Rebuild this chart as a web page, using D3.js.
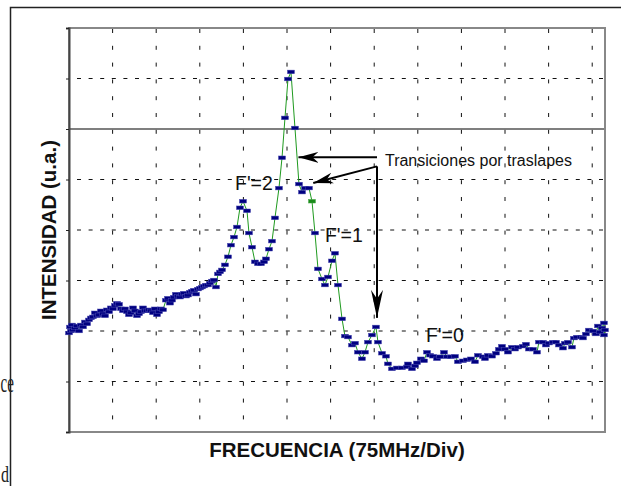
<!DOCTYPE html>
<html>
<head>
<meta charset="utf-8">
<script src="https://cdn.jsdelivr.net/npm/d3@7"></script>
<style>
  html, body { margin: 0; padding: 0; background: #fff; }
  svg { display: block; }
</style>
</head>
<body>
<svg id="chart" width="621" height="486"></svg>
<script>
// Frequency (MHz, 75 MHz per division) and intensity (a.u., 1 per division)
const freqMHz = [
  0, 1.7, 3.4, 5.2, 6.9, 10.3, 13.8, 17.2, 20.6, 24.1, 27.5, 31.0, 34.4, 37.8, 41.3, 44.7, 48.2, 51.6,
  55.0, 58.5, 61.9, 65.4, 68.8, 72.2, 75.7, 79.1, 82.6, 86.0, 89.4, 92.9, 96.3, 99.8, 103.2, 106.6,
  110.1, 113.5, 117.0, 120.4, 123.8, 127.3, 130.7, 134.2, 137.6, 141.0, 144.5, 147.9, 151.4, 154.8,
  158.2, 161.7, 166.8, 170.3, 173.7, 177.2, 180.6, 184.0, 187.5, 190.9, 194.4, 197.8, 201.2, 204.7,
  208.1, 211.6, 215.0, 218.4, 221.9, 225.3, 228.8, 232.2, 235.6, 239.1, 242.5, 246.0, 249.4, 252.8,
  256.3, 259.7, 263.2, 268.3, 273.5, 278.6, 283.8, 289.0, 294.1, 299.3, 306.2, 309.6, 314.8, 319.9,
  325.1, 330.2, 335.4, 338.8, 344.0, 349.2, 354.3, 361.2, 366.4, 371.5, 376.7, 381.8, 388.7, 395.6,
  400.8, 405.9, 412.8, 418.0, 423.1, 428.3, 435.2, 440.3, 445.5, 452.4, 457.5, 462.7, 469.6, 474.7,
  479.9, 486.8, 491.9, 497.1, 503.9, 509.1, 514.3, 521.2, 528.0, 531.5, 538.4, 545.2, 548.7, 555.6,
  564.2, 572.8, 581.4, 583.1, 590.0, 595.1, 598.6, 605.4, 610.6, 615.8, 620.9, 626.1, 633.0, 638.1,
  645.0, 650.2, 657.0, 663.9, 669.1, 677.7, 684.6, 691.4, 698.3, 703.5, 712.1, 715.5, 720.7, 727.6,
  734.4, 739.6, 744.8, 749.9, 755.1, 762.0, 767.1, 772.3, 780.9, 786.0, 791.2, 798.1, 805.0, 808.4,
  815.3, 820.4, 825.6, 832.5, 837.6, 842.8, 849.7, 853.1, 858.3, 865.2, 868.6, 873.8, 880.6, 884.1,
  889.2, 894.4, 901.3, 906.4, 909.9, 913.3, 916.8, 920.2, 920.2, 921.9
];
const intensity = [
  1.96, 2.08, 2.00, 2.12, 2.02, 2.06, 2.10, 2.00, 2.12, 2.08, 2.18, 2.14, 2.22, 2.26, 2.28, 2.36, 2.30, 2.32,
  2.40, 2.34, 2.30, 2.42, 2.38, 2.46, 2.44, 2.51, 2.55, 2.53, 2.44, 2.40, 2.44, 2.38, 2.32, 2.36,
  2.46, 2.40, 2.30, 2.34, 2.38, 2.46, 2.40, 2.40, 2.42, 2.40, 2.36, 2.44, 2.32, 2.38,
  2.44, 2.42, 2.61, 2.65, 2.55, 2.61, 2.67, 2.73, 2.69, 2.67, 2.73, 2.75, 2.69, 2.71,
  2.77, 2.79, 2.81, 2.73, 2.83, 2.85, 2.87, 2.89, 2.91, 2.91, 2.95, 2.99, 3.01, 2.87,
  3.13, 3.17, 3.21, 3.31, 3.47, 3.70, 3.86, 4.06, 4.44, 4.57, 4.38, 3.94, 3.66, 3.37,
  3.33, 3.33, 3.37, 3.43, 3.62, 3.78, 4.24, 4.83, 5.43, 6.22, 6.99, 7.13, 6.02, 4.91,
  4.75, 4.83, 4.83, 4.57, 3.94, 3.23, 3.03, 2.91, 3.07, 3.39, 3.54, 2.91, 2.24, 1.90,
  1.88, 1.72, 1.76, 1.58, 1.45, 1.58, 1.78, 1.92, 2.08, 1.78, 1.56, 1.50, 1.35, 1.25,
  1.27, 1.27, 1.29, 1.35, 1.25, 1.31, 1.37, 1.45, 1.41, 1.58, 1.52, 1.50, 1.45, 1.49,
  1.58, 1.49, 1.49, 1.50, 1.39, 1.41, 1.43, 1.45, 1.39, 1.52, 1.49, 1.45, 1.52, 1.50,
  1.56, 1.64, 1.70, 1.64, 1.58, 1.68, 1.64, 1.68, 1.70, 1.74, 1.64, 1.64, 1.58, 1.78,
  1.78, 1.72, 1.76, 1.78, 1.78, 1.72, 1.66, 1.76, 1.78, 1.68, 1.86, 1.88, 1.88, 1.86,
  1.94, 2.02, 2.00, 1.94, 2.10, 1.98, 2.06, 2.16, 1.92, 2.02
];
const greenPointFreqs = [418.0];

const xGridTicks = [75, 150, 225, 300, 375, 450, 525, 600, 675, 750, 825, 900];
const yTicks = [0, 1, 2, 3, 4, 5, 6, 7, 8];
const ySolidLine = 6;

const xTitle = "FRECUENCIA (75MHz/Div)";
const yTitle = "INTENSIDAD (u.a.)";
const noteText = "Transiciones por traslapes";
const peakLabels = ["F'=2", "F'=1", "F'=0"];
const peakLabelPos = [[285.5, 4.79], [440.3, 3.76], [614, 1.78]];
// annotation anchor points (data units)
const noteAnchor = [543.5, 5.27];
const arrowStart = [[529.8, 5.44], [529.8, 5.26], [529.8, 5.26]];
const arrowEnd = [[394.7, 5.44], [420.2, 4.93], [529.8, 2.26]];

const svg = d3.select("#chart");
const x = d3.scaleLinear().domain([0, 922]).range([69, 605]);
const y = d3.scaleLinear().domain([0, 8]).range([432, 28]);
const font = "'Liberation Sans', Arial, Helvetica, sans-serif";
const serif = "'Liberation Serif', 'Times New Roman', serif";

// background document fragments
svg.append("text").attr("transform", "translate(0.5,392) scale(1,1.8)")
  .attr("font-family", serif).attr("font-size", 15).attr("fill", "#222").text("ce");
svg.append("text").attr("transform", "translate(1,482) scale(1,1.5)")
  .attr("font-family", serif).attr("font-size", 16).attr("fill", "#222").text("d");
svg.append("path").attr("d", "M10.5,486V7.5H621").attr("fill", "none")
  .attr("stroke", "#222").attr("stroke-width", 1.5);

// grid
const g = svg.append("g");
g.selectAll("line.vg").data(xGridTicks).join("line").attr("class", "vg")
  .attr("x1", d => x(d)).attr("x2", d => x(d)).attr("y1", y(8)).attr("y2", y(0))
  .attr("stroke", "#111").attr("stroke-width", 1).attr("stroke-dasharray", "4,12.8")
  .attr("stroke-dashoffset", -1);
g.selectAll("line.hg").data(yTicks.filter(d => d > 0 && d < 8 && d !== ySolidLine)).join("line").attr("class", "hg")
  .attr("x1", x(0)).attr("x2", x(922)).attr("y1", d => y(d)).attr("y2", d => y(d))
  .attr("stroke", "#111").attr("stroke-width", 1).attr("stroke-dasharray", "4,7.6")
  .attr("stroke-dashoffset", -8);
g.append("line").attr("x1", x(0)).attr("x2", x(922)).attr("y1", y(ySolidLine)).attr("y2", y(ySolidLine))
  .attr("stroke", "#555").attr("stroke-width", 1.6);

// frame
g.append("rect").attr("x", x(0)).attr("y", y(8)).attr("width", x(922) - x(0)).attr("height", y(0) - y(8))
  .attr("fill", "none").attr("stroke", "#888").attr("stroke-width", 2);
const yAxis = d3.axisLeft(y).tickValues(yTicks).tickSize(3).tickFormat("");
const ya = g.append("g").attr("transform", `translate(${x(0)},0)`).call(yAxis);
ya.select(".domain").attr("stroke", "#444").attr("stroke-width", 2);
ya.selectAll(".tick line").attr("stroke", "#222");

// data
const pts = freqMHz.map((f, i) => ({ f, v: intensity[i] }));
const line = d3.line().x(d => x(d.f)).y(d => y(d.v));
svg.append("path").datum(pts).attr("d", line).attr("fill", "none")
  .attr("stroke", "#1f9a1f").attr("stroke-width", 1);
svg.selectAll("rect.m").data(pts).join("rect").attr("class", "m")
  .attr("x", d => x(d.f) - 3.5).attr("y", d => y(d.v) - 1.8)
  .attr("width", 7).attr("height", 3.6)
  .attr("fill", d => greenPointFreqs.includes(d.f) ? "#1a8a1a" : "#000080")
  .attr("stroke", d => greenPointFreqs.includes(d.f) ? "#4aa84a" : "#4848b0").attr("stroke-width", 0.5);

// axis titles
svg.append("text").attr("x", 337).attr("y", 457).attr("text-anchor", "middle")
  .attr("font-family", font).attr("font-weight", "bold").attr("font-size", 20.5).attr("fill", "#111").text(xTitle);
svg.append("text").attr("transform", "translate(56,230) rotate(-90)").attr("text-anchor", "middle")
  .attr("font-family", font).attr("font-weight", "bold").attr("font-size", 20.5).attr("fill", "#111").text(yTitle);

// peak labels
svg.selectAll("text.pk").data(peakLabels).join("text").attr("class", "pk")
  .attr("x", (d, i) => x(peakLabelPos[i][0])).attr("y", (d, i) => y(peakLabelPos[i][1]))
  .attr("font-family", font).attr("font-size", 19.5).attr("fill", "#111").text(d => d);

// annotation
svg.append("text").attr("x", x(noteAnchor[0])).attr("y", y(noteAnchor[1]))
  .attr("font-family", font).attr("font-size", 16).attr("fill", "#111").text(noteText);

const defs = svg.append("defs");
defs.append("marker").attr("id", "ah").attr("viewBox", "0 -6 20 12").attr("refX", 20).attr("refY", 0)
  .attr("markerWidth", 20).attr("markerHeight", 12).attr("markerUnits", "userSpaceOnUse").attr("orient", "auto")
  .append("path").attr("d", "M0,-5.5L20,0L0,5.5L6,0Z").attr("fill", "#000");
defs.append("marker").attr("id", "ahl").attr("viewBox", "0 -6 28 12").attr("refX", 28).attr("refY", 0)
  .attr("markerWidth", 28).attr("markerHeight", 12).attr("markerUnits", "userSpaceOnUse").attr("orient", "auto")
  .append("path").attr("d", "M0,-6L28,0L0,6L9,0Z").attr("fill", "#000");

svg.selectAll("line.ar").data(arrowStart).join("line").attr("class", "ar")
  .attr("x1", d => x(d[0])).attr("y1", d => y(d[1]))
  .attr("x2", (d, i) => x(arrowEnd[i][0])).attr("y2", (d, i) => y(arrowEnd[i][1]))
  .attr("stroke", "#000").attr("stroke-width", 2)
  .attr("marker-end", (d, i) => i === 2 ? "url(#ahl)" : "url(#ah)");
</script>
</body>
</html>
